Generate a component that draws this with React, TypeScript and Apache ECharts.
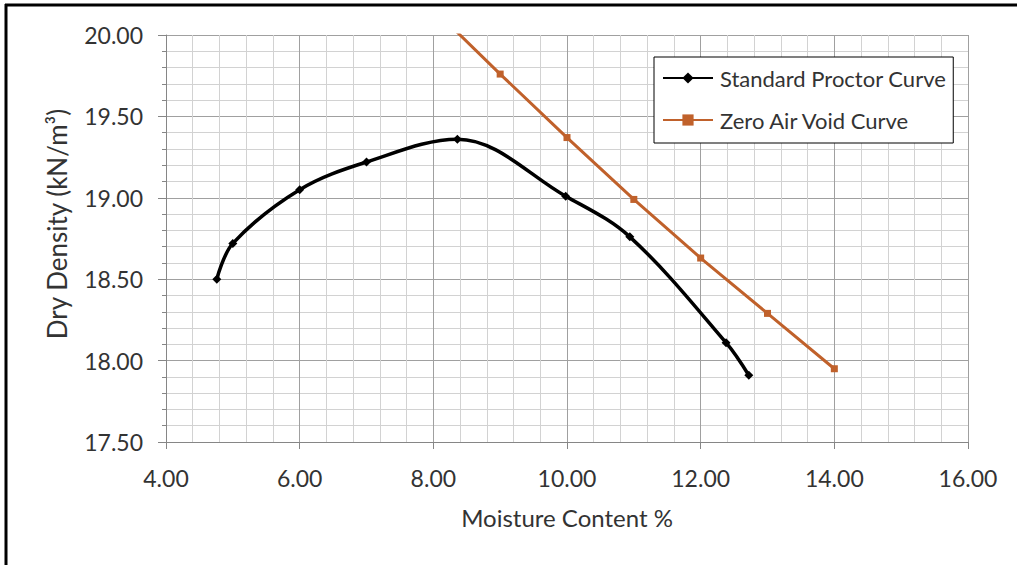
import React, { useEffect, useRef } from "react";
import * as echarts from "echarts";

const proctorX = [4.76, 5.0, 6.0, 7.0, 8.36, 9.98, 10.94, 12.38, 12.72];
const proctorY = [18.5, 18.72, 19.05, 19.22, 19.36, 19.01, 18.76, 18.11, 17.91];
const zavX = [8.0, 9.0, 10.0, 11.0, 12.0, 13.0, 14.0];
const zavY = [20.16, 19.76, 19.37, 18.99, 18.63, 18.29, 17.95];

const FONT = "Lato";

export default function App() {
  const ref = useRef<HTMLDivElement>(null);
  useEffect(() => {
    if (!ref.current) return;
    const chart = echarts.init(ref.current, undefined, { renderer: "svg" });
    chart.setOption({
      animation: false,
      backgroundColor: "#ffffff",
      textStyle: { fontFamily: FONT },
      grid: { left: 166, right: 49, top: 35, bottom: 123, containLabel: false },
      xAxis: {
        type: "value",
        min: 4,
        max: 16,
        interval: 2,
        name: "Moisture Content %",
        nameLocation: "middle",
        nameGap: 63,
        nameTextStyle: { fontSize: 24, color: "#333", fontFamily: FONT },
        axisLine: { show: true, lineStyle: { color: "#868686", width: 1 } },
        axisTick: { show: true, inside: false, length: 7, lineStyle: { color: "#868686" } },
        minorTick: { show: false },
        axisLabel: {
          margin: 24,
          fontSize: 23,
          color: "#333",
          fontFamily: FONT,
          formatter: (v: number) => v.toFixed(2),
        },
        splitLine: { show: true, lineStyle: { color: "#a0a0a0", width: 1 } },
        minorSplitLine: { show: true, lineStyle: { color: "#d2d2d2", width: 1 } },
      },
      yAxis: {
        type: "value",
        min: 17.5,
        max: 20,
        interval: 0.5,
        axisLine: { show: true, lineStyle: { color: "#868686", width: 1 } },
        axisTick: { show: true, inside: false, length: 8, lineStyle: { color: "#868686" } },
        minorTick: { show: true, splitNumber: 5, length: 4, lineStyle: { color: "#868686" } },
        axisLabel: {
          margin: 23,
          fontSize: 23,
          color: "#333",
          fontFamily: FONT,
          formatter: (v: number) => v.toFixed(2),
        },
        splitLine: { show: true, lineStyle: { color: "#a0a0a0", width: 1 } },
        minorSplitLine: { show: true, lineStyle: { color: "#d2d2d2", width: 1 } },
      },
      legend: {
        show: true,
        orient: "vertical",
        left: 654,
        top: 57,
        backgroundColor: "#ffffff",
        borderColor: "#000000",
        borderWidth: 1,
        padding: [10, 7, 12, 8],
        itemWidth: 50,
        itemHeight: 14,
        itemGap: 20,
        textStyle: { fontSize: 22, color: "#333", fontFamily: FONT, padding: [0, 0, 0, 2] },
        data: ["Standard Proctor Curve", "Zero Air Void Curve"],
      },
      series: [
        {
          name: "Standard Proctor Curve",
          type: "line",
          smooth: 0.35,
          clip: true,
          symbol: "diamond",
          symbolSize: 9,
          data: proctorX.map((x, i) => [x, proctorY[i]]),
          lineStyle: { color: "#000000", width: 3.5 },
          itemStyle: { color: "#000000" },
          z: 3,
        },
        {
          name: "Zero Air Void Curve",
          type: "line",
          smooth: false,
          clip: true,
          symbol: "rect",
          symbolSize: 7,
          data: zavX.map((x, i) => [x, zavY[i]]),
          lineStyle: { color: "#C0612B", width: 3 },
          itemStyle: { color: "#C0612B" },
          z: 2,
        },
      ],
      graphic: [
        {
          type: "text",
          x: 57,
          y: 224,
          rotation: Math.PI / 2,
          style: {
            text: "Dry Density (kN/m³)",
            fontSize: 26,
            fontFamily: FONT,
            fill: "#333",
            align: "center",
            verticalAlign: "middle",
          },
        },
        {
          type: "line",
          shape: { x1: 5, y1: 5, x2: 1017, y2: 5 },
          style: { stroke: "#000", lineWidth: 3 },
        },
        {
          type: "line",
          shape: { x1: 6, y1: 4, x2: 6, y2: 565 },
          style: { stroke: "#000", lineWidth: 3 },
        },
      ],
    });
    return () => chart.dispose();
  }, []);
  return (
    <div
      ref={ref}
      style={{ position: "absolute", left: 0, top: 0, width: 1017, height: 565 }}
    />
  );
}
